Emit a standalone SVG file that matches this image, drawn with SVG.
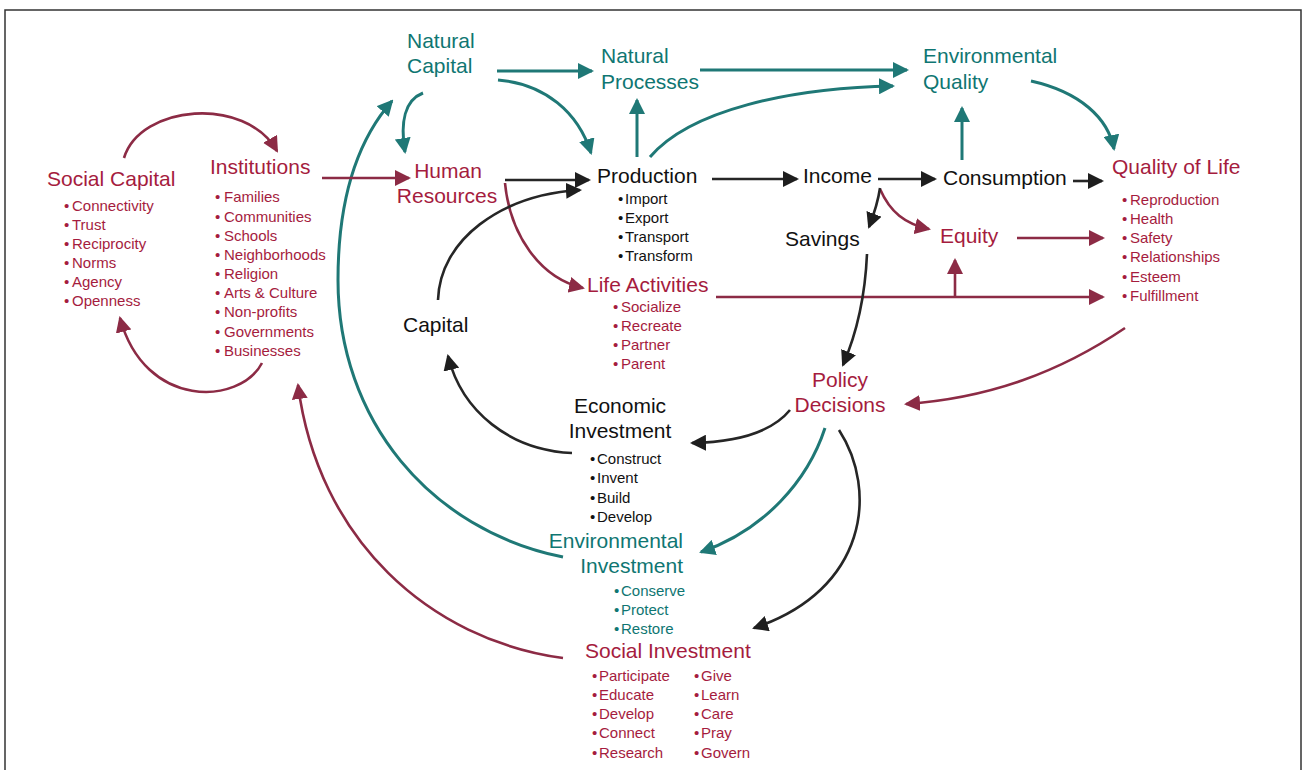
<svg xmlns="http://www.w3.org/2000/svg" width="1304" height="770" viewBox="0 0 1304 770">
<style>
text{font-family:"Liberation Sans",Arial,sans-serif}
.big{font-size:21px}
.sm{font-size:15px}
.red{fill:#a51c3e}
.teal{fill:#0f7672}
.blk{fill:#111}
.c{fill:none;stroke-width:2.6}
.ct{stroke:#1f7876;stroke-width:3}
.cr{stroke:#8c2b45}
.cb{stroke:#262626}
</style>
<defs>
<marker id="at" markerUnits="userSpaceOnUse" markerWidth="16" markerHeight="16" refX="14" refY="8" orient="auto"><path d="M0,0 L16,8 L0,16 z" fill="#1f7876"/></marker>
<marker id="ar" markerUnits="userSpaceOnUse" markerWidth="16" markerHeight="16" refX="14" refY="8" orient="auto"><path d="M0,0 L16,8 L0,16 z" fill="#8c2b45"/></marker>
<marker id="ab" markerUnits="userSpaceOnUse" markerWidth="16" markerHeight="16" refX="14" refY="8" orient="auto"><path d="M0,0 L16,8 L0,16 z" fill="#1e1e1e"/></marker>
</defs>
<rect width="1304" height="770" fill="#fff"/>
<path d="M5,770 V10 H1301 V770" fill="none" stroke="#333" stroke-width="1.5"/>

<g id="connectors" class="c">
<path class="c ct" marker-end="url(#at)" d="M497,71 L592,71"/>
<path class="c ct" marker-end="url(#at)" d="M498,80 C545,84 578,112 591,153"/>
<path class="c ct" marker-end="url(#at)" d="M423,93 C405,100 400,122 405,152"/>
<path class="c ct" marker-end="url(#at)" d="M637,157 L637,100"/>
<path class="c ct" marker-end="url(#at)" d="M650,157 C690,110 790,88 893,86"/>
<path class="c ct" marker-end="url(#at)" d="M700,70 L907,70"/>
<path class="c ct" marker-end="url(#at)" d="M1031,81 C1080,92 1108,118 1114,149"/>
<path class="c ct" marker-end="url(#at)" d="M962,160 L962,108"/>
<path class="c ct" marker-end="url(#at)" d="M563,557 C430,530 338,420 338,280 C338,190 362,135 392,101"/>
<path class="c ct" marker-end="url(#at)" d="M825,428 C808,480 765,530 701,552"/>

<path class="c cr" marker-end="url(#ar)" d="M124,158 C140,105 245,95 277,151"/>
<path class="c cr" marker-end="url(#ar)" d="M262,363 C240,405 145,410 120,318"/>
<path class="c cr" marker-end="url(#ar)" d="M322,178 L409,178"/>
<path class="c cr" marker-end="url(#ar)" d="M505,183 C510,235 540,278 583,288"/>
<path class="c cr" marker-end="url(#ar)" d="M880,189 C890,212 905,224 929,229"/>
<path class="c cr" marker-end="url(#ar)" d="M1017,238 L1103,238"/>
<path class="c cr" marker-end="url(#ar)" d="M716,297 L1103,297"/>
<path class="c cr" marker-end="url(#ar)" d="M955,297 L955,260"/>
<path class="c cr" marker-end="url(#ar)" d="M1125,328 C1060,372 990,398 906,404"/>
<path class="c cr" marker-end="url(#ar)" d="M563,658 C430,640 318,540 298,385"/>

<path class="c cb" marker-end="url(#ab)" d="M505,180 L589,180"/>
<path class="c cb" marker-end="url(#ab)" d="M438,300 C440,240 500,195 580,190"/>
<path class="c cb" marker-end="url(#ab)" d="M712,179 L797,179"/>
<path class="c cb" marker-end="url(#ab)" d="M878,179 L935,179"/>
<path class="c cb" marker-end="url(#ab)" d="M1073,181 L1102,181"/>
<path class="c cb" marker-end="url(#ab)" d="M880,188 C878,202 874,214 869,227"/>
<path class="c cb" marker-end="url(#ab)" d="M867,254 C865,300 856,335 843,365"/>
<path class="c cb" marker-end="url(#ab)" d="M790,410 C772,432 740,442 692,443"/>
<path class="c cb" marker-end="url(#ab)" d="M572,453 C510,450 462,412 448,356"/>
<path class="c cb" marker-end="url(#ab)" d="M839,430 C878,490 868,590 754,628"/>
</g>

<g id="natural-capital" class="teal">
<text class="big" x="407" y="48">Natural</text>
<text class="big" x="407" y="73">Capital</text>
</g>
<g id="natural-processes" class="teal">
<text class="big" x="601" y="63">Natural</text>
<text class="big" x="601" y="89">Processes</text>
</g>
<g id="environmental-quality" class="teal">
<text class="big" x="923" y="63">Environmental</text>
<text class="big" x="923" y="89">Quality</text>
</g>

<g id="social-capital" class="red">
<text class="big" x="47" y="186">Social Capital</text>
<text class="sm"><tspan x="64" y="211">•</tspan><tspan x="72">Connectivity</tspan></text>
<text class="sm"><tspan x="64" y="230">•</tspan><tspan x="72">Trust</tspan></text>
<text class="sm"><tspan x="64" y="249">•</tspan><tspan x="72">Reciprocity</tspan></text>
<text class="sm"><tspan x="64" y="268">•</tspan><tspan x="72">Norms</tspan></text>
<text class="sm"><tspan x="64" y="287">•</tspan><tspan x="72">Agency</tspan></text>
<text class="sm"><tspan x="64" y="306">•</tspan><tspan x="72">Openness</tspan></text>
</g>

<g id="institutions" class="red">
<text class="big" x="210" y="174">Institutions</text>
<text class="sm"><tspan x="215" y="202">•</tspan><tspan x="224">Families</tspan></text>
<text class="sm"><tspan x="215" y="222">•</tspan><tspan x="224">Communities</tspan></text>
<text class="sm"><tspan x="215" y="241">•</tspan><tspan x="224">Schools</tspan></text>
<text class="sm"><tspan x="215" y="260">•</tspan><tspan x="224">Neighborhoods</tspan></text>
<text class="sm"><tspan x="215" y="279">•</tspan><tspan x="224">Religion</tspan></text>
<text class="sm"><tspan x="215" y="298">•</tspan><tspan x="224">Arts &amp; Culture</tspan></text>
<text class="sm"><tspan x="215" y="317">•</tspan><tspan x="224">Non-profits</tspan></text>
<text class="sm"><tspan x="215" y="337">•</tspan><tspan x="224">Governments</tspan></text>
<text class="sm"><tspan x="215" y="356">•</tspan><tspan x="224">Businesses</tspan></text>
</g>

<g id="human-resources" class="red">
<text class="big" x="448" y="178" text-anchor="middle">Human</text>
<text class="big" x="447" y="203" text-anchor="middle">Resources</text>
</g>

<g id="production" class="blk">
<text class="big" x="597" y="183">Production</text>
<text class="sm"><tspan x="618" y="204">•</tspan><tspan x="625">Import</tspan></text>
<text class="sm"><tspan x="618" y="223">•</tspan><tspan x="625">Export</tspan></text>
<text class="sm"><tspan x="618" y="242">•</tspan><tspan x="625">Transport</tspan></text>
<text class="sm"><tspan x="618" y="261">•</tspan><tspan x="625">Transform</tspan></text>
</g>

<g id="income" class="blk"><text class="big" x="803" y="183">Income</text></g>
<g id="consumption" class="blk"><text class="big" x="943" y="185">Consumption</text></g>
<g id="savings" class="blk"><text class="big" x="785" y="246">Savings</text></g>
<g id="equity" class="red"><text class="big" x="940" y="243">Equity</text></g>

<g id="quality-of-life" class="red">
<text class="big" x="1112" y="174">Quality of Life</text>
<text class="sm"><tspan x="1122" y="205">•</tspan><tspan x="1130">Reproduction</tspan></text>
<text class="sm"><tspan x="1122" y="224">•</tspan><tspan x="1130">Health</tspan></text>
<text class="sm"><tspan x="1122" y="243">•</tspan><tspan x="1130">Safety</tspan></text>
<text class="sm"><tspan x="1122" y="262">•</tspan><tspan x="1130">Relationships</tspan></text>
<text class="sm"><tspan x="1122" y="282">•</tspan><tspan x="1130">Esteem</tspan></text>
<text class="sm"><tspan x="1122" y="301">•</tspan><tspan x="1130">Fulfillment</tspan></text>
</g>

<g id="life-activities" class="red">
<text class="big" x="587" y="292">Life Activities</text>
<text class="sm"><tspan x="613" y="312">•</tspan><tspan x="621">Socialize</tspan></text>
<text class="sm"><tspan x="613" y="331">•</tspan><tspan x="621">Recreate</tspan></text>
<text class="sm"><tspan x="613" y="350">•</tspan><tspan x="621">Partner</tspan></text>
<text class="sm"><tspan x="613" y="369">•</tspan><tspan x="621">Parent</tspan></text>
</g>

<g id="capital" class="blk"><text class="big" x="403" y="332">Capital</text></g>

<g id="policy-decisions" class="red">
<text class="big" x="840" y="387" text-anchor="middle">Policy</text>
<text class="big" x="840" y="412" text-anchor="middle">Decisions</text>
</g>

<g id="economic-investment" class="blk">
<text class="big" x="620" y="413" text-anchor="middle">Economic</text>
<text class="big" x="620" y="438" text-anchor="middle">Investment</text>
<text class="sm"><tspan x="590" y="464">•</tspan><tspan x="597">Construct</tspan></text>
<text class="sm"><tspan x="590" y="483">•</tspan><tspan x="597">Invent</tspan></text>
<text class="sm"><tspan x="590" y="503">•</tspan><tspan x="597">Build</tspan></text>
<text class="sm"><tspan x="590" y="522">•</tspan><tspan x="597">Develop</tspan></text>
</g>

<g id="environmental-investment" class="teal">
<text class="big" x="683" y="548" text-anchor="end">Environmental</text>
<text class="big" x="683" y="573" text-anchor="end">Investment</text>
<text class="sm"><tspan x="614" y="596">•</tspan><tspan x="621">Conserve</tspan></text>
<text class="sm"><tspan x="614" y="615">•</tspan><tspan x="621">Protect</tspan></text>
<text class="sm"><tspan x="614" y="634">•</tspan><tspan x="621">Restore</tspan></text>
</g>

<g id="social-investment" class="red">
<text class="big" x="585" y="658">Social Investment</text>
<text class="sm"><tspan x="592" y="681">•</tspan><tspan x="599">Participate</tspan></text>
<text class="sm"><tspan x="592" y="700">•</tspan><tspan x="599">Educate</tspan></text>
<text class="sm"><tspan x="592" y="719">•</tspan><tspan x="599">Develop</tspan></text>
<text class="sm"><tspan x="592" y="738">•</tspan><tspan x="599">Connect</tspan></text>
<text class="sm"><tspan x="592" y="758">•</tspan><tspan x="599">Research</tspan></text>
<text class="sm"><tspan x="694" y="681">•</tspan><tspan x="701">Give</tspan></text>
<text class="sm"><tspan x="694" y="700">•</tspan><tspan x="701">Learn</tspan></text>
<text class="sm"><tspan x="694" y="719">•</tspan><tspan x="701">Care</tspan></text>
<text class="sm"><tspan x="694" y="738">•</tspan><tspan x="701">Pray</tspan></text>
<text class="sm"><tspan x="694" y="758">•</tspan><tspan x="701">Govern</tspan></text>
</g>
</svg>
